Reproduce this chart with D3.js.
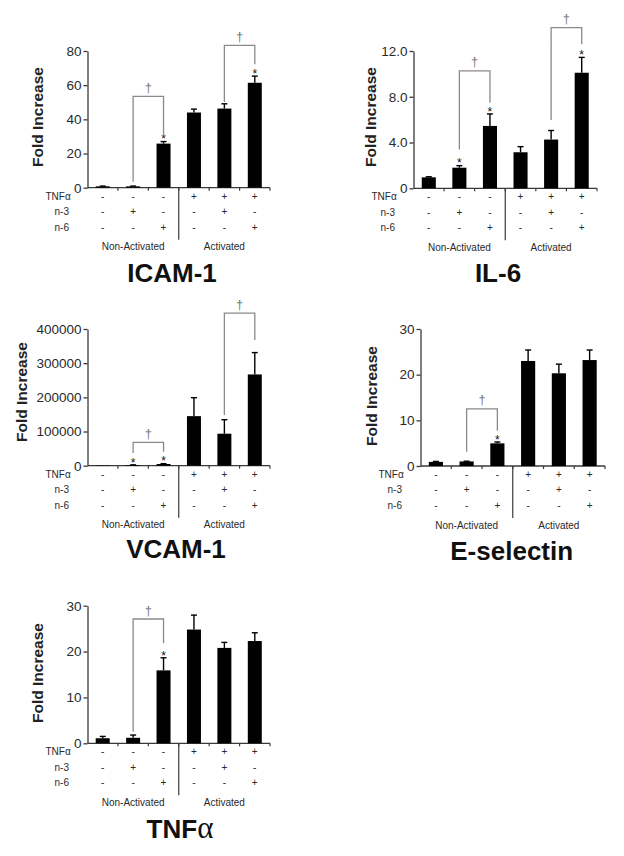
<!DOCTYPE html>
<html>
<head>
<meta charset="utf-8">
<script src="https://cdn.jsdelivr.net/npm/d3@7"></script>
<style>
  html, body { margin: 0; padding: 0; background: #fff; }
  svg { display: block; }
  text { font-family: "Liberation Sans", Arial, sans-serif; }
</style>
</head>
<body>
<svg id="chart" width="624" height="856"></svg>
<script>
// ---------- DATA ----------
const conditions = ["Control", "n-3", "n-6", "TNFα", "TNFα + n-3", "TNFα + n-6"];
const rowLabels = ["TNFα", "n-3", "n-6"];
const rowTNF = ["-", "-", "-", "+", "+", "+"];
const rowN3  = ["-", "+", "-", "-", "+", "-"];
const rowN6  = ["-", "-", "+", "-", "-", "+"];
const groupLabels = ["Non-Activated", "Activated"];
const yLabel = "Fold Increase";

const icamValues = [0.8, 0.8, 25.8, 44.0, 46.3, 61.4];
const icamErrors = [0.15, 0.15, 1.2, 2.0, 2.8, 3.9];
const icamTicks = [0, 20, 40, 60, 80];
const icamStars = [2, 5];
// [from, to, left end, right end, top] in data units
const icamBrackets = [[1, 2, 3.5, 30.8, 53.5], [4, 5, 50.2, 72.2, 83.3]];

const il6Values = [0.96, 1.8, 5.45, 3.15, 4.26, 10.1];
const il6Errors = [0.05, 0.18, 1.05, 0.49, 0.79, 1.34];
const il6Ticks = [0, 4, 8, 12];
const il6TickLabels = ["0", "4.0", "8.0", "12.0"];
const il6Stars = [1, 2, 5];
const il6Brackets = [[1, 2, 3.4, 7.47, 10.27], [4, 5, 5.98, 12.6, 14.04]];

const vcamValues = [1000, 2000, 5000, 145000, 93600, 267000];
const vcamErrors = [0, 500, 1000, 54000, 41000, 64000];
const vcamTicks = [0, 100000, 200000, 300000, 400000];
const vcamStars = [1, 2];
const vcamBrackets = [[1, 2, 37100, 40900, 68400], [4, 5, 148000, 367500, 446500]];

const eselValues = [0.9, 1.0, 4.96, 23.0, 20.3, 23.2];
const eselErrors = [0.1, 0.05, 0.3, 2.4, 2.0, 2.2];
const eselTicks = [0, 10, 20, 30];
const eselStars = [2];
const eselBrackets = [[1, 2, 3.1, 7.7, 12.5]];

const tnfValues = [1.1, 1.2, 15.9, 24.8, 20.8, 22.3];
const tnfErrors = [0.4, 0.6, 2.75, 3.15, 1.2, 1.8];
const tnfTicks = [0, 10, 20, 30];
const tnfStars = [2];
const tnfBrackets = [[1, 2, 2.5, 21.8, 27.1]];

// ---------- LAYOUT ----------
const panels = [
  { title: "ICAM-1", values: icamValues, errors: icamErrors, ticks: icamTicks, tickLabels: null,
    stars: icamStars, brackets: icamBrackets, max: 80,
    left: 87.5, right: 270, bottom: 187.7, top: 51, titleX: 172, titleY: 282, labX: 42.7, labY: 117 },
  { title: "IL-6", values: il6Values, errors: il6Errors, ticks: il6Ticks, tickLabels: il6TickLabels,
    stars: il6Stars, brackets: il6Brackets, max: 12,
    left: 413.5, right: 597, bottom: 188.3, top: 51, titleX: 498, titleY: 281.7, labX: 376, labY: 117 },
  { title: "VCAM-1", values: vcamValues, errors: vcamErrors, ticks: vcamTicks, tickLabels: null,
    stars: vcamStars, brackets: vcamBrackets, max: 400000,
    left: 87.5, right: 270, bottom: 465.7, top: 329, titleX: 176, titleY: 558.3, labX: 26.7, labY: 392 },
  { title: "E-selectin", values: eselValues, errors: eselErrors, ticks: eselTicks, tickLabels: null,
    stars: eselStars, brackets: eselBrackets, max: 30,
    left: 420.5, right: 605, bottom: 466, top: 329, titleX: 511.7, titleY: 560, labX: 376.7, labY: 396 },
  { title: "TNFα", values: tnfValues, errors: tnfErrors, ticks: tnfTicks, tickLabels: null,
    stars: tnfStars, brackets: tnfBrackets, max: 30,
    left: 87.5, right: 270, bottom: 743.3, top: 605.7, titleX: 180, titleY: 838.3, labX: 43.3, labY: 673 }
];

const svg = d3.select("#chart");
svg.append("rect").attr("width", 624).attr("height", 856).attr("fill", "#fff");

const AXIS = "#3a3a3a", TXT = "#2a2a2a", BRK = "#8a8a8a";

function drawPanel(p) {
  const g = svg.append("g");
  const x = d3.scaleBand().domain(conditions).range([p.left, p.right])
    .paddingInner(0.54).paddingOuter(0.27);
  const y = d3.scaleLinear().domain([0, p.max]).range([p.bottom, p.top]);
  const cx = c => x(c) + x.bandwidth() / 2;
  const boundary = i => x(conditions[i]) + x.bandwidth() / 2 + x.step() / 2;

  // Y axis
  const yAxis = d3.axisLeft(y).tickValues(p.ticks).tickSize(4).tickSizeOuter(0).tickPadding(2)
    .tickFormat((d, i) => p.tickLabels ? p.tickLabels[i] : String(d));
  const ya = g.append("g").attr("transform", `translate(${p.left},0)`).call(yAxis);
  ya.select(".domain").attr("stroke", AXIS).attr("stroke-width", 1.3);
  ya.selectAll(".tick line").attr("stroke", AXIS).attr("stroke-width", 1.3);
  ya.selectAll(".tick text").attr("fill", TXT).attr("font-size", 13.5)
    .attr("font-family", "Liberation Sans, Arial, sans-serif");

  // X axis line and boundary ticks
  g.append("line").attr("x1", p.left).attr("x2", p.right).attr("y1", p.bottom).attr("y2", p.bottom)
    .attr("stroke", AXIS).attr("stroke-width", 1.3);
  g.selectAll("line.xt").data(conditions).join("line").attr("class", "xt")
    .attr("x1", (d, i) => boundary(i)).attr("x2", (d, i) => boundary(i))
    .attr("y1", p.bottom).attr("y2", p.bottom + 3)
    .attr("stroke", AXIS).attr("stroke-width", 1.2);

  // Bars
  g.selectAll("rect.bar").data(p.values).join("rect").attr("class", "bar")
    .attr("x", (d, i) => x(conditions[i])).attr("width", x.bandwidth())
    .attr("y", d => y(d)).attr("height", d => Math.max(0, p.bottom - y(d)))
    .attr("fill", "#000");

  // Error bars (upper only)
  p.values.forEach((v, i) => {
    const e = p.errors[i];
    if (e <= 0) return;
    const xc = cx(conditions[i]);
    g.append("line").attr("x1", xc).attr("x2", xc).attr("y1", y(v)).attr("y2", y(v + e))
      .attr("stroke", "#000").attr("stroke-width", 1.4);
    g.append("line").attr("x1", xc - 3).attr("x2", xc + 3).attr("y1", y(v + e)).attr("y2", y(v + e))
      .attr("stroke", "#000").attr("stroke-width", 1.4);
  });

  // Asterisks
  p.stars.forEach(i => {
    g.append("text").attr("x", cx(conditions[i])).attr("y", y(p.values[i] + p.errors[i]) + 1.8)
      .attr("text-anchor", "middle").attr("font-size", 12).attr("fill", "#111").text("*");
  });

  // Brackets with daggers
  p.brackets.forEach(b => {
    const [a, c, le, re, top] = b;
    const xa = cx(conditions[a]), xb = cx(conditions[c]);
    g.append("path")
      .attr("d", `M${xa},${y(le)}V${y(top)}H${xb}V${y(re)}`)
      .attr("fill", "none").attr("stroke", BRK).attr("stroke-width", 1.3);
    g.append("text").attr("x", (xa + xb) / 2).attr("y", y(top) - 4.5)
      .attr("text-anchor", "middle").attr("font-size", 13).attr("fill", "#777").text("†");
  });

  // Condition rows
  const rows = [rowTNF, rowN3, rowN6];
  const rowOff = [8.3, 23.8, 39.3];
  rows.forEach((r, ri) => {
    const yy = p.bottom + rowOff[ri] + 3.5;
    g.append("text").attr("x", p.left - (ri === 0 ? 42 : 33)).attr("y", yy)
      .attr("font-size", 10).attr("fill", TXT).text(rowLabels[ri]);
    g.selectAll(null).data(r).join("text")
      .attr("x", (d, i) => cx(conditions[i])).attr("y", yy)
      .attr("text-anchor", "middle").attr("font-size", 10).attr("fill", TXT).text(d => d);
  });

  // Separator
  g.append("line").attr("x1", boundary(2)).attr("x2", boundary(2))
    .attr("y1", p.bottom).attr("y2", p.bottom + 52)
    .attr("stroke", AXIS).attr("stroke-width", 1.2);

  // Group labels
  const gx = [(p.left + boundary(2)) / 2, (boundary(2) + p.right) / 2];
  groupLabels.forEach((t, i) => {
    g.append("text").attr("x", gx[i]).attr("y", p.bottom + 62.5).attr("text-anchor", "middle")
      .attr("font-size", 10).attr("fill", TXT).text(t);
  });

  // Y label
  g.append("text").attr("transform", `translate(${p.labX},${p.labY}) rotate(-90)`)
    .attr("text-anchor", "middle").attr("font-size", 15.5).attr("font-weight", "bold")
    .attr("fill", "#222").text(yLabel);

  // Title
  const t = g.append("text").attr("x", p.titleX).attr("y", p.titleY).attr("text-anchor", "middle")
    .attr("font-size", 26).attr("font-weight", "bold").attr("fill", "#111");
  if (p.title.endsWith("α")) {
    t.append("tspan").text(p.title.slice(0, -1));
    t.append("tspan").attr("font-family", "Liberation Serif, serif").attr("font-weight", "normal")
      .attr("font-size", 31).text("α");
  } else {
    t.text(p.title);
  }
}

panels.forEach(drawPanel);
</script>
</body>
</html>
